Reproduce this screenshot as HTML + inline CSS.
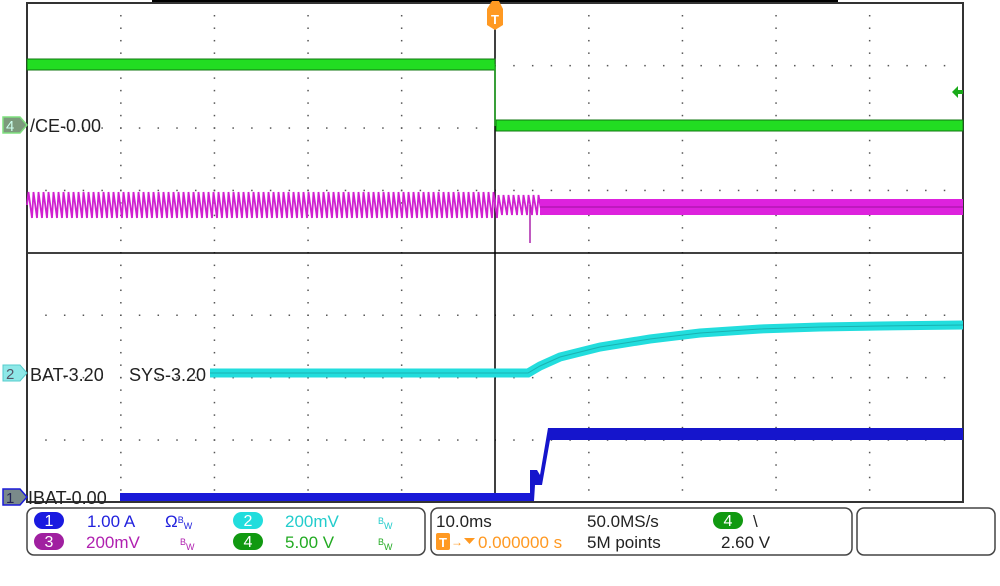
<!DOCTYPE html>
<html><head><meta charset="utf-8"><style>
body{margin:0;background:#fff;width:1000px;height:581px;overflow:hidden;font-family:"Liberation Sans","DejaVu Sans",sans-serif}
svg text{font-family:"Liberation Sans","DejaVu Sans",sans-serif}
</style></head><body>
<svg id="s" width="1000" height="581" xmlns="http://www.w3.org/2000/svg">
<rect x="152" y="0" width="686" height="3" fill="#000"/>
<g id="grid"></g>
<line x1="27" y1="253" x2="963" y2="253" stroke="#000" stroke-width="1.5"/>
<line x1="495" y1="3" x2="495" y2="502" stroke="#000" stroke-width="1.5"/>
<rect x="27" y="3" width="936" height="499" fill="none" stroke="#333" stroke-width="2"/>
<rect x="27" y="59" width="468" height="11" fill="#22dd22" stroke="#117711" stroke-width="1"/>
<rect x="496" y="120" width="467" height="11" fill="#22dd22" stroke="#117711" stroke-width="1"/>
<line x1="495" y1="64" x2="495" y2="126" stroke="#22aa22" stroke-width="1.5"/>
<polygon points="952,92 958,86 958,90 963,90 963,94 958,94 958,98" fill="#1aaa1a"/>
<g id="mag"></g>
<rect x="540" y="199" width="423" height="16" fill="#dd22dd"/>
<line x1="540" y1="207" x2="963" y2="207" stroke="#a010a0" stroke-width="1"/>
<line x1="530" y1="205" x2="530" y2="243" stroke="#aa22aa" stroke-width="1.5"/>
<path d="M210 373 L528 373 L540 366 L560 357 L600 347 L650 339 L700 333 L760 329 L820 327 L880 326 L963 325" fill="none" stroke="#22dddd" stroke-width="9"/>
<path d="M210 373 L528 373 L540 366 L560 357 L600 347 L650 339 L700 333 L760 329 L820 327 L880 326 L963 325" fill="none" stroke="#118888" stroke-width="1" opacity="0.5"/>
<rect x="120" y="493" width="410" height="8" fill="#1a1ad8"/>
<polygon points="530,501 530,470 537,470 540,475 548,428 963,428 963,440 550,440 542,485 535,485 534,501" fill="#1515cc"/>
<polygon points="492,1 499,1 503,9 503,25 495,30 487,25 487,9" fill="#ff9922"/>
<text x="495" y="24" font-size="13" fill="#fff" text-anchor="middle" font-weight="bold">T</text>
<polygon points="3,117 20,117 27,125 20,133 3,133" fill="#7c9a7c" stroke="#7fe07f" stroke-width="1.5"/>
<text x="6" y="131" font-size="15" fill="#cfe">4</text>
<polygon points="3,365 20,365 27,373 20,381 3,381" fill="#8ee8e8" stroke="#5cc" stroke-width="1"/>
<text x="6" y="379" font-size="15" fill="#556">2</text>
<polygon points="3,489 20,489 27,497 20,505 3,505" fill="#7a8a8a" stroke="#1a1ad8" stroke-width="1.5"/>
<text x="6" y="503" font-size="15" fill="#225">1</text>
<g font-size="18" fill="#222">
<text x="30" y="132">/CE-0.00</text>
<text x="30" y="381">BAT-3.20</text>
<text x="129" y="381">SYS-3.20</text>
<text x="28" y="504">IBAT-0.00</text>
</g>
<rect x="27" y="508" width="398" height="47" rx="7" fill="none" stroke="#444" stroke-width="1.5"/>
<rect x="431" y="508" width="421" height="47" rx="7" fill="none" stroke="#444" stroke-width="1.5"/>
<rect x="857" y="508" width="138" height="47" rx="7" fill="none" stroke="#444" stroke-width="1.5"/>
<rect x="34" y="512" width="30" height="17" rx="8.5" fill="#1a1ae0"/><text x="49" y="526" font-size="16" fill="#fff" text-anchor="middle">1</text>
<rect x="34" y="533" width="30" height="17" rx="8.5" fill="#a020a0"/><text x="49" y="547" font-size="16" fill="#fff" text-anchor="middle">3</text>
<rect x="233" y="512" width="30" height="17" rx="8.5" fill="#22dddd"/><text x="248" y="526" font-size="16" fill="#fff" text-anchor="middle">2</text>
<rect x="233" y="533" width="30" height="17" rx="8.5" fill="#119911"/><text x="248" y="547" font-size="16" fill="#fff" text-anchor="middle">4</text>
<g font-size="17">
<text x="87" y="527" fill="#2222dd">1.00 A</text>
<text x="165" y="527" fill="#2222dd">Ω<tspan font-size="9" dy="-4">B</tspan><tspan font-size="9" dy="6">W</tspan></text>
<text x="86" y="548" fill="#b020b0">200mV</text>
<text x="180" y="545" fill="#b020b0" font-size="9">B<tspan dy="5">W</tspan></text>
<text x="285" y="527" fill="#22cccc">200mV</text>
<text x="378" y="524" fill="#22cccc" font-size="9">B<tspan dy="5">W</tspan></text>
<text x="285" y="548" fill="#22aa22">5.00 V</text>
<text x="378" y="545" fill="#22aa22" font-size="9">B<tspan dy="5">W</tspan></text>
<text x="436" y="527" fill="#222">10.0ms</text>
<text x="587" y="527" fill="#222">50.0MS/s</text>
<text x="587" y="548" fill="#222">5M points</text>
<text x="721" y="548" fill="#222">2.60 V</text>
<text x="753" y="527" fill="#222">\</text>
<text x="478" y="548" fill="#ff9922">0.000000 s</text>
</g>
<rect x="436" y="533" width="14" height="17" rx="2" fill="#ff9922"/><text x="443" y="547" font-size="13" fill="#fff" text-anchor="middle" font-weight="bold">T</text>
<text x="451" y="546" font-size="12" fill="#ff9922">→</text>
<polygon points="464,538 475,538 469.5,544" fill="#ff9922"/>
<rect x="713" y="512" width="30" height="17" rx="8.5" fill="#119911"/><text x="728" y="526" font-size="16" fill="#fff" text-anchor="middle">4</text>
</svg>
<script>
var g=document.getElementById("grid"),h="";
for(var i=1;i<10;i++){var x=27+i*93.6;if(i==5)continue;
 for(var k=1;k<40;k++){h+='<rect x="'+(x-0.5)+'" y="'+(3+k*12.48-0.5)+'" width="1.5" height="1.5" fill="#555"/>';}}
for(var j=1;j<8;j++){var y=3+j*62.4;if(j==4)continue;for(var k=1;k<50;k++){h+='<rect x="'+(27+k*18.72-0.5)+'" y="'+(y-0.5)+'" width="1.5" height="1.5" fill="#555"/>';}}
g.innerHTML=h;
var m="M27 205";for(var x=27;x<540;x+=5){var a=(x<495)?13:10;m+=" L"+(x+1.5)+" "+(205-a)+" L"+(x+5)+" "+(205+a);}
document.getElementById("mag").innerHTML='<path d="'+m+'" fill="none" stroke="#d020d0" stroke-width="1.8"/>';
</script>
</body></html>
